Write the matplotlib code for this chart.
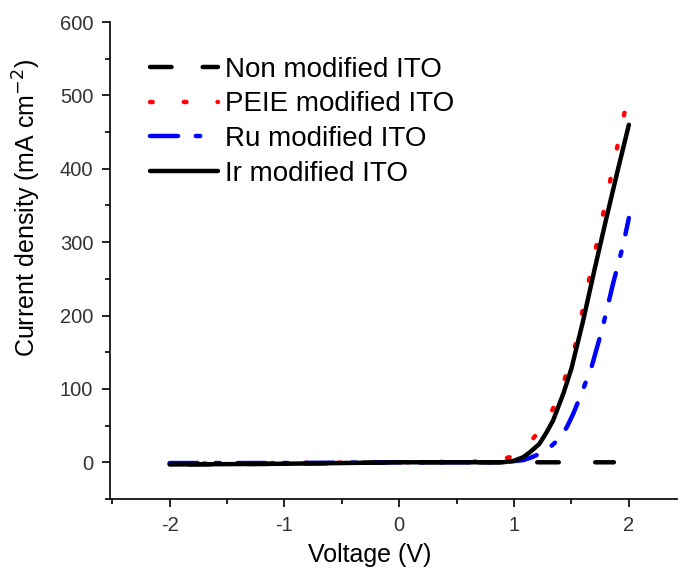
import matplotlib.pyplot as plt
from matplotlib.ticker import MultipleLocator

plt.rcParams['font.family'] = ['Liberation Sans', 'DejaVu Sans']
plt.rcParams['axes.unicode_minus'] = False

# Non modified ITO (flat, ~0 over the whole range shown)
v_non = [-2.0, -1.0, 0.0, 1.0, 1.5, 1.87]
j_non = [-3, -2, 0, 0, 0, 0]

# PEIE modified ITO
v_peie = [-2.0, -1.0, 0.0, 0.8, 0.99, 1.1, 1.2, 1.28, 1.355, 1.442, 1.53, 1.585,
          1.643, 1.706, 1.759, 1.82, 1.875, 1.933, 1.99]
j_peie = [-2, -1, 0, 1, 8, 20, 39, 55, 78, 114, 157, 198,
          241, 287, 326, 371, 412, 455, 497]

# Ru modified ITO
v_ru = [-2.0, -1.0, 0.0, 0.9, 1.08, 1.14, 1.2, 1.268, 1.33, 1.399, 1.46, 1.515,
        1.588, 1.675, 1.77, 1.863, 1.95, 2.0]
j_ru = [-1, -1, 0, 0, 3, 6, 10, 16, 23, 33, 48, 66,
        94, 130, 183, 244, 296, 333]

# Ir modified ITO
v_ir = [-2.0, -1.0, 0.0, 0.9, 1.0, 1.08, 1.14, 1.22, 1.28, 1.34, 1.43, 1.5,
        1.6, 1.7, 1.8, 1.9, 2.0]
j_ir = [-3, -2, 0, 0, 2, 7, 14, 25, 40, 57, 94, 128,
        192, 262, 330, 396, 460]

fig = plt.figure(figsize=(6.78, 5.75), dpi=100)
ax = fig.add_axes([0.1622, 0.1322, 0.850, 0.8295])

ax.plot(v_non, j_non, color='black', lw=3.2, linestyle=(8.65, (4.85, 8.2)),
        dash_capstyle='round', label='Non modified ITO')
ax.plot(v_peie, j_peie, color='red', lw=3.2, linestyle=(0, (0.6, 7.0)),
        dash_capstyle='round', label='PEIE modified ITO')
ax.plot(v_ru, j_ru, color='blue', lw=3.2, linestyle=(0, (6.3, 4, 1, 4)),
        dash_capstyle='round', label='Ru modified ITO')
ax.plot(v_ir, j_ir, color='black', lw=3.2, solid_capstyle='round',
        solid_joinstyle='round', label='Ir modified ITO')

ax.set_xlim(-2.52, 2.5)
ax.set_ylim(-50, 600)
ax.xaxis.set_major_locator(MultipleLocator(1))
ax.xaxis.set_minor_locator(MultipleLocator(0.5))
ax.yaxis.set_major_locator(MultipleLocator(100))
ax.yaxis.set_minor_locator(MultipleLocator(50))
ax.tick_params(which='major', direction='out', length=6, width=1.2,
               labelsize=14.5, labelcolor='#333333', pad=6)
ax.tick_params(which='minor', direction='out', length=3.5, width=1.2)
ax.spines['top'].set_visible(False)
ax.spines['right'].set_visible(False)
ax.spines['left'].set_linewidth(1.2)
ax.spines['bottom'].set_linewidth(1.2)

ax.set_xlabel('Voltage (V)', fontsize=18)
ax.set_ylabel('Current density (mA cm$^{-2}$)', fontsize=18)
ax.xaxis.set_label_coords(0.451, -0.092)
ax.yaxis.set_label_coords(-0.117, 0.61)

leg = ax.legend(loc='upper left', bbox_to_anchor=(0.069, 0.927), frameon=False,
                borderpad=0, borderaxespad=0, fontsize=20, handlelength=2.45,
                handletextpad=0.25, labelspacing=0.31)
# legend sample of the dashed line starts with a dash
leg.legend_handles[0].set_linestyle((0, (4.85, 7.0)))

plt.savefig('out.png', dpi=100)
